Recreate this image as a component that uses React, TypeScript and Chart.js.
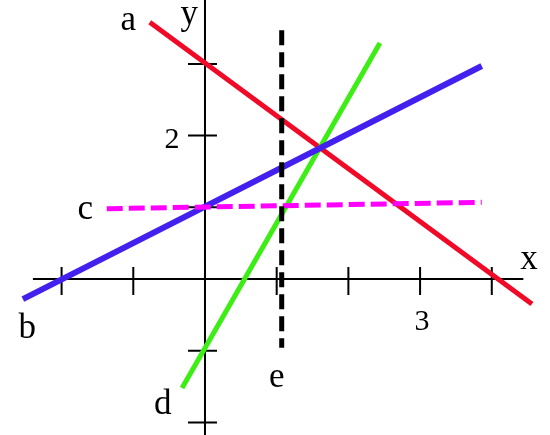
import React, { useEffect, useRef } from 'react';
import { Chart, registerables, Plugin } from 'chart.js';

Chart.register(...registerables);

// line end points (x, y in graph units)
const lineAX = [-0.77, 4.56];
const lineAY = [3.58, -0.35];
const lineBX = [-2.54, 3.86];
const lineBY = [-0.28, 2.97];
const lineCX = [-1.37, 3.86];
const lineCY = [0.98, 1.07];
const lineDX = [-0.32, 2.44];
const lineDY = [-1.52, 3.29];
const lineEX = [1.07, 1.07];
const lineEY = [3.47, -0.96];

// axes
const xTicks = [-2, -1, 1, 2, 3, 4];
const xTickLabels = ['', '', '', '', '3', ''];
const yTicks = [-2, -1, 1, 2, 3];
const yTickLabels = ['', '', '', '2', ''];
const xAxisRange = [-2.4, 4.44];
const yAxisRange = [-2.3, 4];

// names written beside the lines and axes
const nameTexts = ['a', 'b', 'c', 'd', 'e', 'x', 'y'];
const nameX = [-1.07, -2.48, -1.67, -0.59, 1.0, 4.52, -0.22];
const nameY = [3.47, -0.82, 0.84, -1.88, -1.51, 0.14, 3.56];

const pts = (xs: number[], ys: number[]) => xs.map((x, i) => ({ x, y: ys[i] }));

const axesPlugin: Plugin = {
  id: 'mathAxes',
  beforeDatasetsDraw(chart) {
    const { ctx } = chart;
    const sx = chart.scales.x;
    const sy = chart.scales.y;
    const x0 = sx.getPixelForValue(0);
    const y0 = sy.getPixelForValue(0);
    ctx.save();
    ctx.strokeStyle = '#000';
    ctx.lineWidth = 2;
    ctx.beginPath();
    ctx.moveTo(sx.getPixelForValue(xAxisRange[0]), y0);
    ctx.lineTo(sx.getPixelForValue(xAxisRange[1]), y0);
    ctx.moveTo(x0, sy.getPixelForValue(yAxisRange[0]));
    ctx.lineTo(x0, sy.getPixelForValue(yAxisRange[1]));
    xTicks.forEach((t) => {
      const px = sx.getPixelForValue(t);
      ctx.moveTo(px, y0 - 12);
      ctx.lineTo(px, y0 + 16);
    });
    yTicks.forEach((t) => {
      const py = sy.getPixelForValue(t);
      ctx.moveTo(x0 - 17, py);
      ctx.lineTo(x0 + 12, py);
    });
    ctx.stroke();
    ctx.restore();
  },
  afterDatasetsDraw(chart) {
    const { ctx } = chart;
    const sx = chart.scales.x;
    const sy = chart.scales.y;
    const x0 = sx.getPixelForValue(0);
    const y0 = sy.getPixelForValue(0);
    ctx.save();
    ctx.fillStyle = '#000';
    ctx.textAlign = 'center';
    ctx.textBaseline = 'alphabetic';
    ctx.font = '30px "Liberation Serif"';
    xTicks.forEach((t, i) => {
      if (xTickLabels[i]) ctx.fillText(xTickLabels[i], sx.getPixelForValue(t) + 2, y0 + 51);
    });
    yTicks.forEach((t, i) => {
      if (yTickLabels[i]) ctx.fillText(yTickLabels[i], x0 - 33, sy.getPixelForValue(t) + 12);
    });
    ctx.font = '35px "Liberation Serif"';
    nameTexts.forEach((s, i) => {
      ctx.fillText(s, sx.getPixelForValue(nameX[i]), sy.getPixelForValue(nameY[i]));
    });
    ctx.restore();
  },
};

const LinesFigure: React.FC = () => {
  const canvasRef = useRef<HTMLCanvasElement>(null);
  const chartInstance = useRef<Chart | null>(null);

  useEffect(() => {
    if (!canvasRef.current) return;
    const line = (data: { x: number; y: number }[], color: string, width: number, dash: number[] = []) => ({
      data,
      showLine: true,
      borderColor: color,
      borderWidth: width,
      borderDash: dash,
      borderCapStyle: 'butt' as const,
      pointRadius: 0,
      fill: false,
      tension: 0,
    });
    // first dataset is drawn on top
    chartInstance.current = new Chart(canvasRef.current, {
      type: 'scatter',
      data: {
        datasets: [
          line(pts(lineEX, lineEY), '#000000', 5, [15, 7]),
          line(pts(lineCX, lineCY), '#ff00ff', 5, [16, 6]),
          line(pts(lineBX, lineBY), '#4420ee', 6),
          line(pts(lineDX, lineDY), '#3cee14', 5),
          line(pts(lineAX, lineAY), '#f00a28', 5),
        ],
      },
      options: {
        animation: false,
        responsive: true,
        maintainAspectRatio: false,
        layout: { padding: 0 },
        plugins: { legend: { display: false }, tooltip: { enabled: false } },
        scales: {
          x: { type: 'linear', min: -2.859, max: 4.812, display: false },
          y: { type: 'linear', min: -2.176, max: 3.891, display: false },
        },
      },
      plugins: [axesPlugin],
    });

    return () => {
      if (chartInstance.current) {
        chartInstance.current.destroy();
        chartInstance.current = null;
      }
    };
  }, []);

  return <canvas ref={canvasRef} />;
};

export default function App() {
  return (
    <div style={{ position: 'fixed', left: 0, top: 0, width: 550, height: 435, background: '#fff' }}>
      <LinesFigure />
    </div>
  );
}
